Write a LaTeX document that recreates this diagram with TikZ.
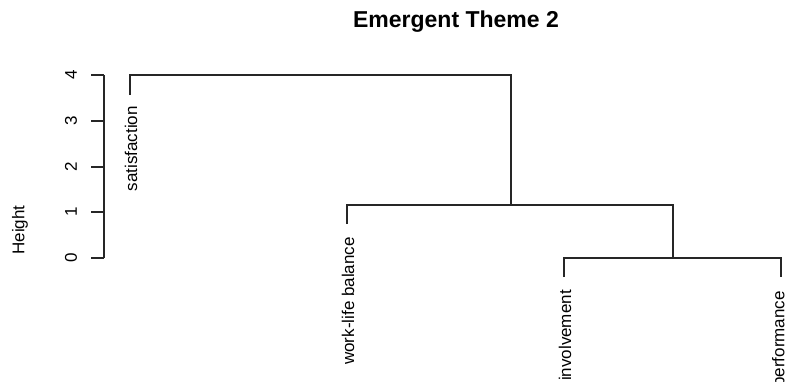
\documentclass[tikz,border=0pt]{standalone}
\usepackage{fontspec}
\setmainfont{Liberation Sans}
\begin{document}
\begin{tikzpicture}[x=1pt,y=-1pt,
  tree/.style={draw=black!85, line width=1.1pt},
  axisline/.style={draw=black!85, line width=1.1pt},
  leaflabel/.style={rotate=90, anchor=east, inner sep=0pt, font=\fontsize{17}{17}\selectfont},
  ticklabel/.style={rotate=90, inner sep=0pt, font=\fontsize{17}{17}\selectfont},
  titlestyle/.style={inner sep=0pt, font=\fontsize{23}{23}\selectfont\bfseries}]
\useasboundingbox (0,0) rectangle (785,381);

% title and axis label
\node[titlestyle] (title) at (456,22) {Emergent Theme 2};
\node[ticklabel] (ylab) at (20,230) {Height};

% vertical axis with ticks
\coordinate (ax0) at (104,258);
\coordinate (ax4) at (104,75);
\draw[axisline] (ax0) -- (ax4);
\foreach \v/\yy in {0/258,1/212,2/167,3/121,4/75}{
  \coordinate (t\v) at (104,\yy);
  \draw[axisline] (t\v) -- ++(-13,0);
  \node[ticklabel] (tl\v) at (71,\yy) {\v};
}

% leaf ends and merge points
\coordinate (sat) at (130,95);
\coordinate (wlb) at (347,224);
\coordinate (inv) at (564,277);
\coordinate (perf) at (781,277);
\coordinate (m1) at (673,258);
\coordinate (m2) at (511,205);
\coordinate (m3) at (320,75);

% branches
\draw[tree] (inv) |- (m1) -| (perf);
\draw[tree] (wlb) |- (m2) -| (m1);
\draw[tree] (sat) |- (m3) -| (m2);

% leaf labels
\node[leaflabel] (lsat) at (131,106) {satisfaction};
\node[leaflabel] (lwlb) at (348,237) {work-life balance};
\node[leaflabel] (linv) at (565,290) {involvement};
\node[leaflabel] (lperf) at (780,291) {performance};
\end{tikzpicture}
\end{document}
